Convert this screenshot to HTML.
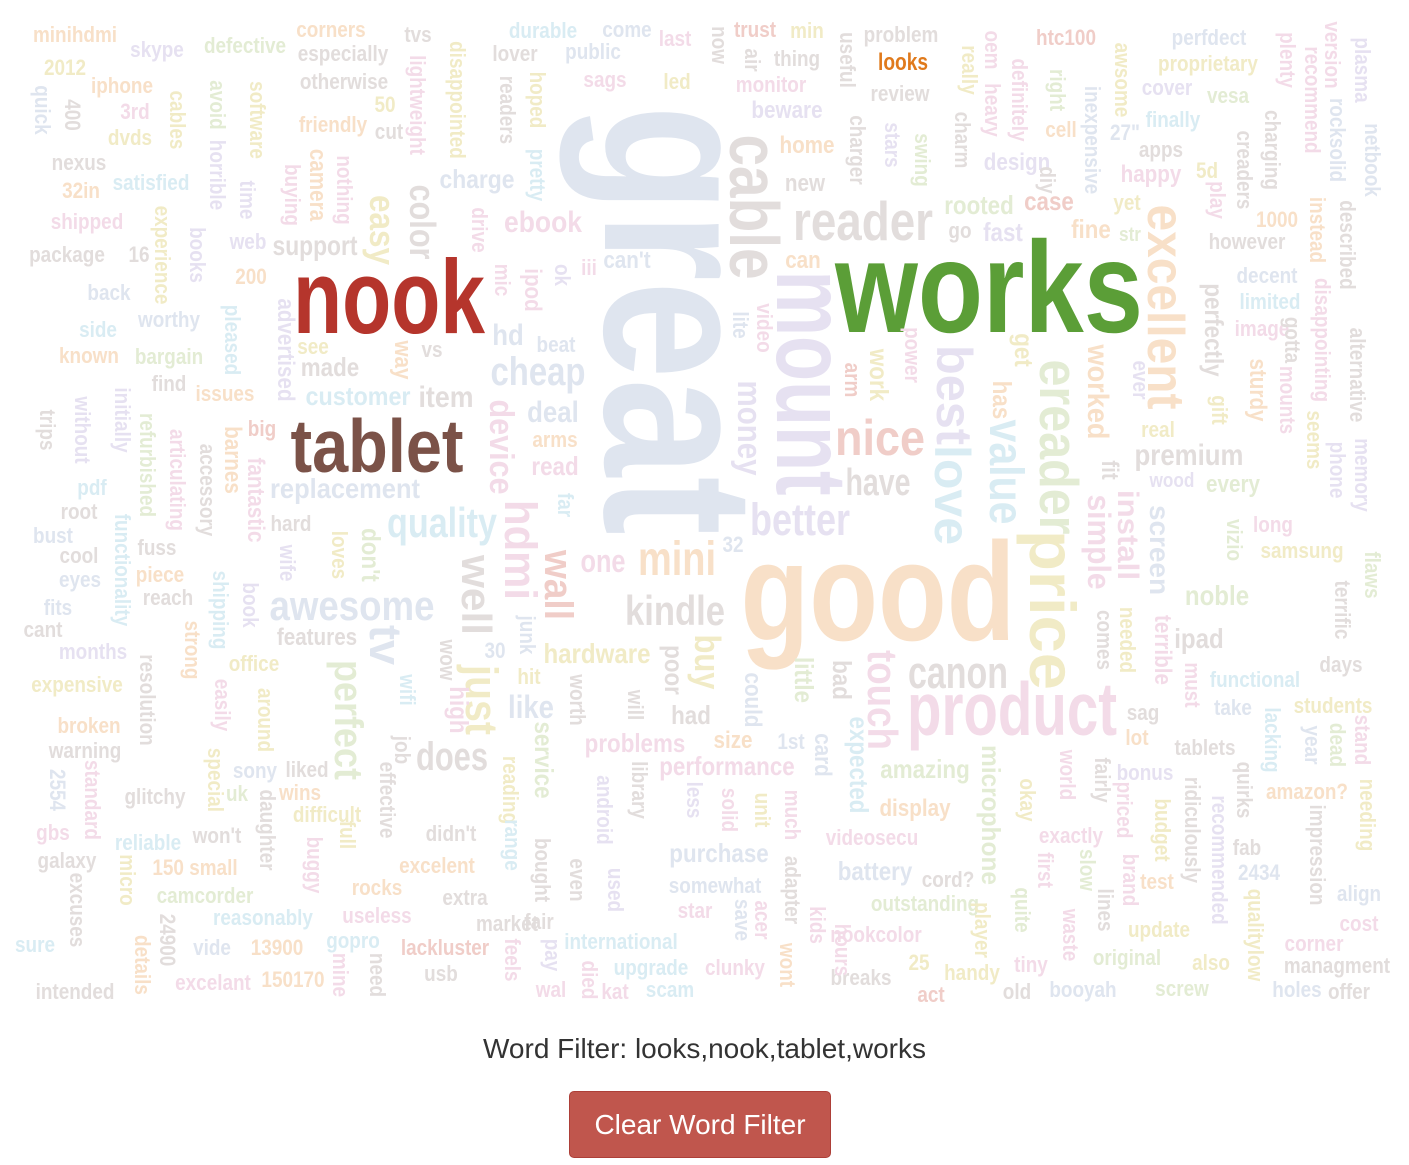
<!DOCTYPE html>
<html><head><meta charset="utf-8"><style>
html,body{margin:0;padding:0;background:#fff;width:1409px;height:1165px;overflow:hidden}
svg{position:absolute;left:0;top:0}
.w{font-family:"Liberation Sans Narrow","Liberation Sans",sans-serif;font-weight:bold}
#filter{position:absolute;left:0;width:1409px;top:1033px;text-align:center;font:28px "Liberation Sans",sans-serif;color:#333}
#btn{position:absolute;left:569px;top:1091px;width:262px;height:67px;box-sizing:border-box;background:#c0564d;border:1px solid #ad3f38;border-radius:5px;color:#fff;font:28px "Liberation Sans",sans-serif;display:flex;align-items:center;justify-content:center}
</style></head><body>
<svg id="cloud" width="1409" height="1020" xmlns="http://www.w3.org/2000/svg"></svg>
<div id="filter">Word Filter: looks,nook,tablet,works</div>
<div id="btn">Clear Word Filter</div>
<script>
const palette={b:'#dfe5ef',o:'#f8e0c8',g:'#e3ecd4',p:'#f3dbe8',u:'#e6e1f1',k:'#e2dddc',r:'#f0cdc8',y:'#f1ebc6',c:'#d9ecf3',
 W:'#5b9e37',N:'#b5352c',T:'#7b5248',L:'#e07a1c'};
// [word, x, y, fontSize, rotated(0/1), colorKey, length]
const words=[
['great',605,320,215,1,'b',430],['good',878,640,140,0,'o',275],['works',989,332,130,0,'W',308],
['nook',389,333,105,0,'N',192],['tablet',377,472,75,0,'T',173],['looks',903,70,24,0,'L',50],
['mount',777,383,100,1,'u',225],['cable',730,207,70,1,'k',145],['reader',863,240,55,0,'k',140],
['ereader',1040,447,55,1,'g',175],['excellent',1148,307,52,1,'o',205],['price',1030,610,65,1,'y',160],
['best',937,395,50,1,'u',100],['love',935,495,50,1,'c',100],['value',990,472,48,1,'c',105],
['nice',880,455,50,0,'r',90],['have',878,495,38,0,'k',65],['better',800,535,45,0,'u',100],
['canon',958,688,45,0,'k',100],['product',1012,735,75,0,'p',210],['kindle',675,625,42,0,'k',100],
['mini',677,575,48,0,'o',78],['one',603,572,32,0,'p',45],['awesome',352,620,42,0,'b',165],
['quality',442,537,42,0,'c',110],['cheap',538,385,40,0,'b',95],['does',452,770,40,0,'k',72],
['support',315,255,28,0,'k',85],['replacement',345,498,28,0,'b',150],['customer',358,405,26,0,'c',105],
['item',446,407,30,0,'k',55],['charge',477,188,26,0,'b',75],['ebook',543,232,30,0,'p',78],
['hd',508,345,30,0,'b',0],['beat',556,352,22,0,'b',0],['deal',553,422,30,0,'b',0],['read',555,475,26,0,'p',0],
['arms',555,447,22,0,'o',0],['well',462,595,42,1,'k',80],['hdmi',505,550,45,1,'p',100],['just',466,700,45,1,'y',70],
['perfect',335,720,40,1,'g',120],['tv',370,645,45,1,'b',40],['wall',545,585,40,1,'r',70],['device',490,447,34,1,'p',95],
['color',410,222,36,1,'k',75],['easy',370,230,36,1,'y',70],['hardware',597,663,28,0,'y',0],['like',531,718,32,0,'b',0],
['problems',635,752,26,0,'p',0],['performance',727,775,26,0,'p',0],['purchase',719,862,26,0,'b',0],['amazing',925,778,26,0,'g',0],
['battery',875,880,26,0,'b',0],['noble',1217,605,28,0,'g',0],['ipad',1199,648,28,0,'k',0],['premium',1189,465,30,0,'k',0],
['simple',1088,542,32,1,'p',95],['install',1118,535,30,1,'p',90],['screen',1150,550,28,1,'b',90],['worked',1088,392,30,1,'o',95],
['touch',868,700,42,1,'p',100],['microphone',982,815,26,1,'g',140],['money',738,428,34,1,'u',95],['buy',695,662,36,1,'y',55],
['minihdmi',75,42,22,0,'o'],['skype',157,57,22,0,'u'],['defective',245,53,22,0,'g'],['corners',331,37,22,0,'o'],['especially',343,61,22,0,'k'],
['tvs',418,42,22,0,'k'],['durable',543,38,22,0,'c'],['come',627,37,22,0,'b'],['last',675,46,22,0,'p'],['trust',755,37,22,0,'r'],
['min',807,38,22,0,'y'],['problem',901,42,22,0,'k'],['htc100',1066,45,22,0,'r'],['perfdect',1209,45,22,0,'b'],['proprietary',1208,71,22,0,'y'],
['2012',65,75,22,0,'y'],['iphone',122,93,22,0,'o'],['3rd',135,119,22,0,'p'],['dvds',130,145,22,0,'y'],['otherwise',344,89,22,0,'k'],
['50',385,112,22,0,'y'],['friendly',333,132,22,0,'o'],['cut',389,139,22,0,'k'],['lover',515,61,22,0,'k'],['public',593,59,22,0,'b'],
['sags',605,87,22,0,'p'],['led',677,89,22,0,'y'],['monitor',771,92,22,0,'p'],['thing',797,66,22,0,'k'],['beware',787,118,24,0,'u'],
['review',900,101,22,0,'k'],['cover',1167,95,22,0,'u'],['vesa',1228,103,22,0,'g'],['finally',1173,127,22,0,'c'],['cell',1061,137,22,0,'o'],
['27"',1125,140,22,0,'b'],['apps',1161,157,22,0,'k'],['home',807,153,24,0,'o'],['new',805,191,24,0,'k'],['design',1017,170,24,0,'u'],
['happy',1151,182,24,0,'p'],['5d',1207,178,22,0,'y'],['nexus',79,170,22,0,'k'],['satisfied',151,190,22,0,'c'],['32in',81,198,22,0,'o'],
['shipped',87,229,22,0,'p'],['package',67,262,22,0,'k'],['16',139,262,22,0,'k'],['web',248,249,22,0,'u'],['200',251,284,22,0,'o'],
['rooted',979,214,26,0,'g'],['case',1049,210,26,0,'r'],['yet',1127,210,22,0,'y'],['fine',1091,238,26,0,'o'],['str',1130,241,20,0,'g'],
['go',960,238,22,0,'k'],['fast',1003,241,26,0,'u'],['can',803,268,24,0,'o'],["can't",627,268,24,0,'b'],['iii',589,275,22,0,'p'],
['1000',1277,227,22,0,'o'],['however',1247,249,22,0,'k'],['decent',1267,283,22,0,'b'],['limited',1270,309,22,0,'c'],['image',1262,336,22,0,'p'],
['back',109,300,22,0,'b'],['side',98,337,22,0,'c'],['worthy',169,327,22,0,'b'],['known',89,363,22,0,'o'],['bargain',169,364,22,0,'g'],
['find',169,391,22,0,'k'],['issues',225,401,22,0,'o'],['see',313,354,22,0,'y'],['made',330,376,26,0,'k'],['vs',432,357,22,0,'k'],
['big',262,436,22,0,'r'],['real',1158,437,22,0,'y'],['wood',1172,487,20,0,'u'],['every',1233,492,24,0,'g'],['root',79,519,22,0,'k'],
['pdf',92,495,22,0,'c'],['bust',53,543,22,0,'b'],['cool',79,563,22,0,'k'],['fuss',157,555,22,0,'k'],['piece',160,582,22,0,'o'],
['eyes',80,587,22,0,'b'],['reach',168,605,22,0,'k'],['fits',58,615,22,0,'b'],['cant',43,637,22,0,'k'],['features',317,645,24,0,'k'],
['hard',291,531,22,0,'k'],['long',1273,532,22,0,'p'],['samsung',1302,558,22,0,'y'],['months',93,659,22,0,'u'],['office',254,671,22,0,'y'],
['expensive',77,692,22,0,'y'],['broken',89,733,22,0,'o'],['warning',85,758,22,0,'k'],['days',1341,672,22,0,'k'],['functional',1255,687,22,0,'c'],
['take',1233,715,22,0,'b'],['students',1333,713,22,0,'y'],['sag',1143,720,22,0,'k'],['lot',1137,745,22,0,'o'],['tablets',1205,755,22,0,'k'],
['bonus',1145,780,22,0,'u'],['sony',255,778,22,0,'b'],['liked',307,777,22,0,'k'],['wins',300,800,22,0,'o'],['glitchy',155,804,22,0,'k'],
['uk',237,801,22,0,'g'],['difficult',327,822,22,0,'y'],['reliable',148,850,22,0,'c'],["won't",217,843,22,0,'k'],["didn't",451,841,22,0,'k'],
['150 small',195,875,22,0,'o'],['galaxy',67,868,22,0,'k'],['gbs',53,840,22,0,'p'],['camcorder',205,903,22,0,'g'],['excelent',437,873,22,0,'o'],
['rocks',377,895,22,0,'o'],['extra',465,905,22,0,'k'],['reasonably',263,925,22,0,'c'],['useless',377,923,22,0,'p'],['market',507,931,22,0,'k'],
['fair',539,929,22,0,'k'],['international',621,949,22,0,'c'],['upgrade',651,975,22,0,'c'],['clunky',735,975,22,0,'p'],['scam',670,997,22,0,'c'],
['kat',615,999,22,0,'p'],['wal',551,997,22,0,'p'],['sure',35,952,22,0,'c'],['vide',212,955,22,0,'b'],['13900',277,955,22,0,'o'],
['gopro',353,948,22,0,'c'],['lackluster',445,955,22,0,'r'],['usb',441,981,22,0,'k'],['intended',75,999,22,0,'k'],['excelant',213,990,22,0,'p'],
['150170',293,987,22,0,'o'],['nookcolor',876,942,22,0,'p'],['breaks',861,985,22,0,'k'],['25',919,970,22,0,'y'],['handy',972,980,22,0,'y'],
['tiny',1031,972,22,0,'p'],['act',931,1002,22,0,'r'],['old',1017,999,22,0,'k'],['booyah',1083,997,22,0,'b'],['original',1127,965,22,0,'g'],
['also',1211,970,22,0,'y'],['screw',1182,996,22,0,'g'],['holes',1297,997,22,0,'b'],['offer',1349,999,22,0,'k'],['managment',1337,973,22,0,'k'],
['cost',1359,931,22,0,'p'],['corner',1314,951,22,0,'p'],['align',1359,901,22,0,'b'],['test',1157,889,22,0,'o'],['update',1159,937,22,0,'y'],
['outstanding',925,911,22,0,'g'],['somewhat',715,893,22,0,'b'],['star',695,918,22,0,'p'],['videosecu',872,845,22,0,'p'],['cord?',948,887,22,0,'k'],
['display',915,816,24,0,'o'],['exactly',1071,843,22,0,'p'],['size',733,748,24,0,'o'],['1st',791,749,22,0,'b'],['had',691,724,26,0,'k'],
['32',733,552,22,0,'b'],['30',495,658,22,0,'b'],['hit',529,684,22,0,'y'],['amazon?',1307,799,22,0,'o'],['fab',1247,855,22,0,'k'],['2434',1259,880,22,0,'b'],
['quick',35,110,22,1,'b'],['400',65,115,22,1,'k'],['cables',170,120,22,1,'y'],['avoid',210,105,22,1,'g'],['horrible',210,175,22,1,'u'],
['software',250,120,22,1,'y'],['lightweight',410,105,22,1,'p'],['disappointed',450,100,22,1,'y'],['readers',500,110,22,1,'k'],['hoped',530,100,22,1,'y'],
['pretty',530,175,22,1,'c'],['camera',310,185,24,1,'o'],['nothing',337,190,22,1,'p'],['buying',285,195,22,1,'p'],['time',240,200,22,1,'u'],
['books',190,255,22,1,'u'],['experience',155,255,22,1,'y'],['ipod',525,290,24,1,'p'],['ok',555,275,22,1,'u'],['mic',495,280,22,1,'p'],
['drive',472,230,22,1,'p'],['now',712,45,22,1,'k'],['air',745,60,22,1,'k'],['useful',840,60,22,1,'k'],['charger',850,150,22,1,'k'],
['stars',885,145,22,1,'u'],['swing',915,160,22,1,'g'],['charm',955,140,22,1,'k'],['oem',985,50,22,1,'p'],['heavy',985,110,22,1,'p'],
['definitely',1012,100,22,1,'p'],['right',1050,90,22,1,'g'],['awsome',1115,80,22,1,'y'],['inexpensive',1085,140,22,1,'b'],['diy',1040,180,22,1,'k'],
['really',962,70,22,1,'y'],['plenty',1280,60,22,1,'p'],['version',1325,55,22,1,'p'],['recommend',1305,100,22,1,'p'],['plasma',1355,70,22,1,'u'],
['rocksolid',1330,140,22,1,'b'],['charging',1265,150,22,1,'k'],['creaders',1237,170,22,1,'k'],['play',1210,200,22,1,'p'],['instead',1310,230,22,1,'o'],
['described',1340,245,22,1,'k'],['netbook',1365,160,22,1,'b'],['disappointing',1315,340,22,1,'p'],['alternative',1350,375,22,1,'k'],
['perfectly',1205,330,26,1,'k'],['gotta',1285,340,22,1,'k'],['mounts',1280,400,22,1,'p'],['sturdy',1250,390,24,1,'o'],['gift',1212,410,22,1,'y'],
['seems',1307,440,22,1,'y'],['phone',1330,470,22,1,'u'],['memory',1355,475,22,1,'u'],['vizio',1227,540,22,1,'g'],['flaws',1365,575,22,1,'g'],
['terrific',1335,610,22,1,'k'],['lacking',1265,740,22,1,'c'],['year',1305,745,22,1,'b'],['dead',1330,745,22,1,'g'],['stand',1355,740,22,1,'p'],
['needing',1360,815,22,1,'y'],['must',1185,685,22,1,'p'],['quirks',1237,790,22,1,'k'],['recommended',1212,860,22,1,'u'],['ridiculously',1185,830,22,1,'k'],
['brand',1123,880,22,1,'p'],['priced',1117,810,22,1,'p'],['budget',1155,830,22,1,'y'],['lines',1098,910,22,1,'k'],['waste',1063,935,22,1,'p'],
['slow',1080,870,22,1,'g'],['first',1038,870,22,1,'p'],['fairly',1095,780,22,1,'k'],['world',1060,775,22,1,'p'],['okay',1020,800,22,1,'y'],
['quite',1015,910,22,1,'g'],['player',975,930,22,1,'y'],['expected',850,765,26,1,'c'],['card',815,755,24,1,'b'],['little',795,680,26,1,'g'],
['bad',833,680,26,1,'k'],['could',745,700,24,1,'b'],['much',785,815,22,1,'p'],['unit',755,810,22,1,'y'],['adapter',785,890,22,1,'k'],
['kids',810,925,22,1,'p'],['hours',835,950,22,1,'p'],['wont',780,965,22,1,'o'],['acer',755,920,22,1,'p'],['save',735,920,22,1,'b'],
['died',582,980,22,1,'p'],['used',608,890,22,1,'u'],['bought',535,870,22,1,'k'],['even',570,880,22,1,'k'],['android',597,810,22,1,'u'],
['library',632,790,22,1,'k'],['less',687,800,22,1,'u'],['solid',722,810,22,1,'p'],['worth',570,700,22,1,'k'],['will',628,705,22,1,'k'],
['service',535,760,26,1,'g'],['reading',503,790,22,1,'y'],['range',505,845,22,1,'c'],['high',450,710,26,1,'p'],['wow',440,660,22,1,'k'],
['job',395,750,22,1,'k'],['wifi',400,690,22,1,'c'],['effective',380,800,22,1,'k'],['full',340,835,22,1,'y'],['buggy',307,865,22,1,'p'],
['daughter',260,830,22,1,'k'],['around',258,720,22,1,'y'],['easily',215,705,22,1,'p'],['special',208,780,22,1,'y'],['resolution',140,700,22,1,'k'],
['standard',85,800,22,1,'p'],['2554',50,790,22,1,'b'],['excuses',70,910,22,1,'k'],['micro',120,880,22,1,'y'],['details',135,965,22,1,'o'],
['24900',160,940,22,1,'k'],['mine',333,975,22,1,'p'],['need',370,975,22,1,'k'],['feels',505,960,22,1,'p'],['pay',545,955,22,1,'u'],
['strong',185,650,22,1,'o'],['book',243,605,22,1,'u'],['shipping',213,610,22,1,'c'],['fantastic',248,500,24,1,'p'],['barnes',225,460,24,1,'o'],
['accessory',200,490,22,1,'k'],['articulating',170,480,22,1,'p'],['refurbished',140,465,22,1,'g'],['initially',115,420,22,1,'u'],['functionality',115,570,22,1,'c'],
['without',75,430,22,1,'u'],['trips',40,430,22,1,'k'],['advertised',278,350,24,1,'u'],['pleased',225,340,22,1,'c'],['way',395,360,24,1,'o'],
['wife',280,563,22,1,'u'],["don't",362,555,26,1,'g'],['loves',332,555,22,1,'y'],['far',558,505,22,1,'c'],['junk',520,635,22,1,'b'],
['poor',665,670,26,1,'k'],['lite',733,325,22,1,'b'],['video',757,328,22,1,'p'],['arm',845,380,22,1,'r'],['work',870,375,26,1,'y'],
['power',905,355,22,1,'p'],['has',993,400,26,1,'o'],['get',1015,350,26,1,'y'],['fit',1102,470,24,1,'k'],['ever',1133,380,22,1,'u'],
['comes',1097,640,22,1,'k'],['needed',1120,640,22,1,'y'],['terrible',1155,650,24,1,'p'],['impression',1310,855,22,1,'k'],['qualitylow',1248,935,22,1,'y']
];
const svg=document.getElementById('cloud');
const NS='http://www.w3.org/2000/svg';
words.forEach(function(w){
  const t=document.createElementNS(NS,'text');
  
  
  t.setAttribute('class','w');
  t.setAttribute('x',w[1]);t.setAttribute('y',w[2]);
  t.setAttribute('font-size',w[3]);
  t.setAttribute('text-anchor','middle');
  t.setAttribute('fill',palette[w[5]]);
  if(w[4]){
    t.setAttribute('transform','rotate(90 '+w[1]+' '+w[2]+')');
  }
  t.textContent=w[0];
  svg.appendChild(t);
  let len=w[6];
  if(!len){len=t.getComputedTextLength()*0.86;}
  t.setAttribute('textLength',len);
  t.setAttribute('lengthAdjust','spacingAndGlyphs');
});
</script>
</body></html>
